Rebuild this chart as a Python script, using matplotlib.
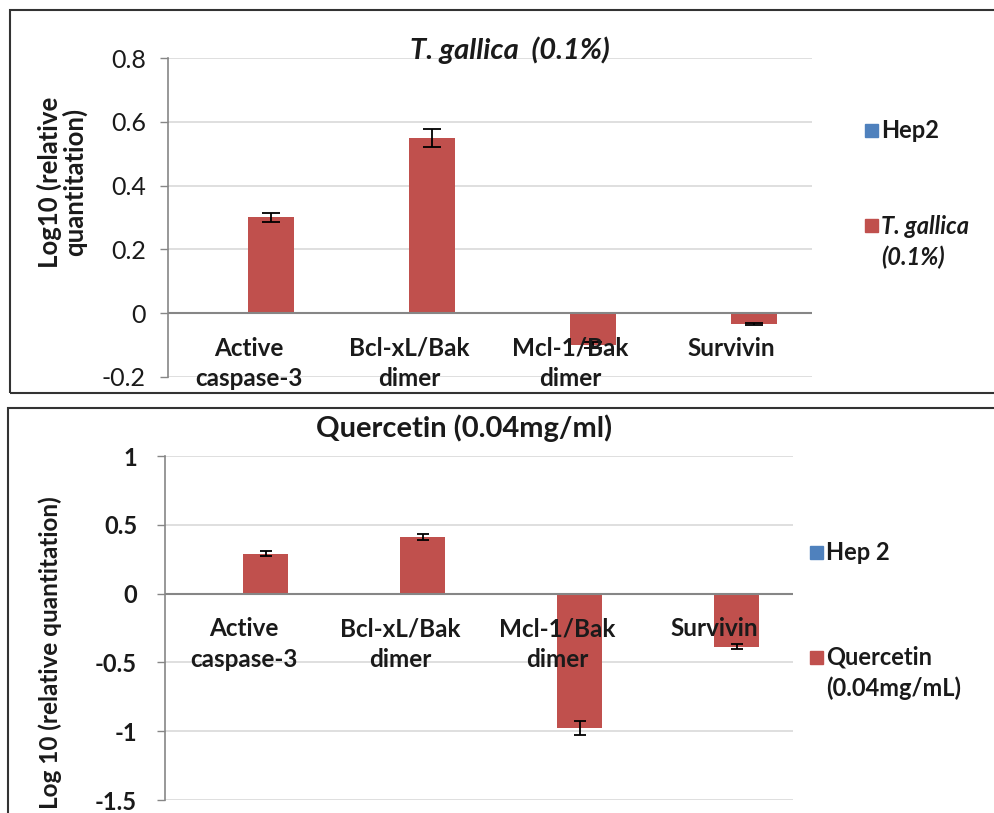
import matplotlib
matplotlib.use("Agg")
import matplotlib.pyplot as plt
from matplotlib.patches import Rectangle

plt.rcParams['font.family'] = ['Lato', 'DejaVu Sans']

# data
categories = ["Active\ncaspase-3", "Bcl-xL/Bak\ndimer", "Mcl-1/Bak\ndimer", "Survivin"]

hep2_top = [0, 0, 0, 0]
tgallica = [0.30, 0.55, -0.10, -0.035]
tgallica_err = [0.015, 0.028, 0.01, 0.003]
top_ticks = [-0.2, 0, 0.2, 0.4, 0.6, 0.8]
top_ticklabels = ["-0.2", "0", "0.2", "0.4", "0.6", "0.8"]

hep2_bottom = [0, 0, 0, 0]
quercetin = [0.29, 0.41, -0.975, -0.385]
quercetin_err = [0.017, 0.02, 0.05, 0.016]
bottom_ticks = [-1.5, -1, -0.5, 0, 0.5, 1]
bottom_ticklabels = ["-1.5", "-1", "-0.5", "0", "0.5", "1"]

RED = '#C0504D'
BLUE = '#4F81BD'
GRID = '#D9D9D9'
AXIS = '#868686'
TXT = '#1a1a1a'

W, H = 995, 813
fig = plt.figure(figsize=(W / 100, H / 100), dpi=100)


def px_axes(left, top, right, bottom):
    """Axes from pixel box (origin top-left)."""
    return fig.add_axes([left / W, 1 - bottom / H, (right - left) / W, (bottom - top) / H])


def px_text(x, y, s, **kw):
    return fig.text(x / W, 1 - y / H, s, color=TXT, **kw)


def draw_panel(ax, hep, vals, errs, ticks, ticklabels, tick_size, tick_weight, pad, capsize):
    x = list(range(len(categories)))
    w = 0.2857
    ax.bar([i - w / 2 for i in x], hep, w, color=BLUE, zorder=2)
    ax.bar([i + w / 2 for i in x], vals, w, color=RED, zorder=2)
    ax.errorbar([i + w / 2 for i in x], vals, yerr=errs, fmt='none', ecolor='black',
                elinewidth=1.3, capsize=capsize, capthick=1.3, zorder=4)
    ax.set_xlim(-0.5, len(categories) - 0.5)
    ax.set_ylim(ticks[0], ticks[-1])
    ax.set_yticks(ticks)
    ax.set_yticklabels(ticklabels, fontsize=tick_size, fontweight=tick_weight, color=TXT)
    ax.set_xticks([])
    ax.tick_params(axis='y', length=6, width=1, color=AXIS, pad=pad)
    ax.yaxis.grid(True, color=GRID, linewidth=1.2)
    ax.set_axisbelow(True)
    for s in ['top', 'right', 'bottom']:
        ax.spines[s].set_visible(False)
    ax.spines['left'].set_color(AXIS)
    ax.spines['left'].set_linewidth(1.2)
    ax.axhline(0, color=AXIS, linewidth=1.5, zorder=3)
    # category labels hang below the zero line
    for i, lab in enumerate(categories):
        for j, line in enumerate(lab.split("\n")):
            ax.annotate(line, xy=(i, 0), xytext=(0, -35 - 30.5 * j), textcoords='offset pixels',
                        ha='center', va='center', fontsize=17.5, fontweight='bold',
                        color=TXT, zorder=5)


# top panel: T. gallica
ax1 = px_axes(168, 58, 812, 377)
draw_panel(ax1, hep2_top, tgallica, tgallica_err, top_ticks, top_ticklabels, 18, 'normal', 10, 6.5)
px_text(510, 50, "T. gallica  (0.1%)", ha='center', va='center',
        fontsize=21, fontweight='bold', style='italic')
px_text(62, 182, "Log10 (relative\nquantitation)", rotation=90,
        ha='center', va='center', fontsize=18.5, fontweight='bold', linespacing=1.0)

# bottom panel: Quercetin
ax2 = px_axes(165, 456, 793, 800)
draw_panel(ax2, hep2_bottom, quercetin, quercetin_err, bottom_ticks, bottom_ticklabels, 17, 'bold', 14, 4.5)
px_text(464, 428, "Quercetin (0.04mg/ml)", ha='center', va='center',
        fontsize=21, fontweight='bold')
px_text(50, 653, "Log 10 (relative quantitation)", rotation=90,
        ha='center', va='center', fontsize=17.5, fontweight='bold')

# legends, drawn by hand to keep the Excel look
legend_items = [
    (865, 130, BLUE, "Hep2", 'normal'),
    (865, 226, RED, "T. gallica\n(0.1%)", 'italic'),
    (810, 552, BLUE, "Hep 2", 'normal'),
    (810, 657, RED, "Quercetin\n(0.04mg/mL)", 'normal'),
]
for lx, ly, col, text, st in legend_items:
    fig.add_artist(Rectangle((lx / W, 1 - (ly + 6.5) / H), 13 / W, 13 / H,
                             transform=fig.transFigure, color=col))
    for j, line in enumerate(text.split("\n")):
        px_text(lx + 16, ly + 31 * j, line, ha='left', va='center', fontsize=17,
                fontweight='bold', style=st)

# chart borders
fig.add_artist(Rectangle((10 / W, 1 - 393 / H), 995 / W, 383 / H, transform=fig.transFigure,
                         fill=False, edgecolor='#333333', linewidth=1.5))
fig.add_artist(Rectangle((8 / W, -0.05), 995 / W, 1 - 408 / H + 0.05, transform=fig.transFigure,
                         fill=False, edgecolor='#333333', linewidth=1.5))

fig.savefig("out.png", dpi=100)
